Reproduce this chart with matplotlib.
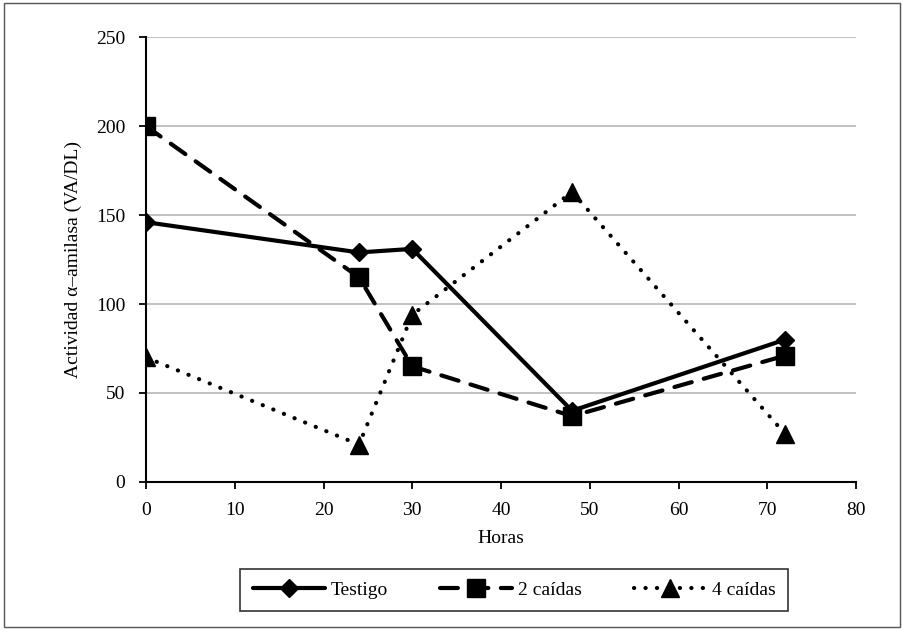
import matplotlib.pyplot as plt
from matplotlib.patches import Rectangle

horas = [0, 24, 30, 48, 72]
testigo = [146, 129, 131, 40, 80]
dos_caidas = [200, 115, 65, 37, 71]
cuatro_caidas = [70, 21, 94, 163, 27]

x_ticks = [0, 10, 20, 30, 40, 50, 60, 70, 80]
y_ticks = [0, 50, 100, 150, 200, 250]

fs = 14
plt.rcParams['font.family'] = ['Liberation Serif', 'DejaVu Serif']
plt.rcParams['font.size'] = fs

fig = plt.figure(figsize=(9.04, 6.3), dpi=100)
ax = fig.add_axes([0.1615, 0.235, 0.7855, 0.706])

lw = 3.0
ax.plot(horas, testigo, color='black', lw=lw, marker='D', markersize=9.5,
        solid_capstyle='round', label='Testigo', zorder=3)
ax.plot(horas, dos_caidas, color='black', lw=lw, marker='s', markersize=13,
        linestyle=(0, (4.3, 3.0)), dash_capstyle='round', label='2 caídas', zorder=3)
ax.plot(horas, cuatro_caidas, color='black', lw=lw, marker='^', markersize=13,
        linestyle=(0, (0.05, 2.7)), dash_capstyle='round', label='4 caídas', zorder=3)

ax.set_xlim(0, 80)
ax.set_ylim(0, 250)
ax.set_xticks(x_ticks)
ax.set_yticks(y_ticks)
ax.yaxis.grid(True, color='#bdbdbd', lw=1.3)
ax.set_axisbelow(True)
for side in ['top', 'right']:
    ax.spines[side].set_visible(False)
for side in ['left', 'bottom']:
    ax.spines[side].set_linewidth(1.5)
ax.tick_params(axis='both', direction='out', length=5, width=1.3, labelsize=fs)
ax.tick_params(axis='x', pad=9.5)
ax.tick_params(axis='y', pad=10)
ax.set_xlabel('Horas', fontsize=fs, labelpad=8)
ax.set_ylabel('Actividad α–amilasa (VA/DL)', fontsize=fs, labelpad=10)

leg = fig.legend(loc='center', ncol=3, mode='expand',
                 bbox_to_anchor=(240 / 904, 20 / 630, 548 / 904, 40 / 630),
                 bbox_transform=fig.transFigure,
                 fontsize=fs, frameon=True, fancybox=False, numpoints=1,
                 handlelength=3.7, borderpad=0.65, handletextpad=0.3,
                 borderaxespad=0)
leg.get_frame().set_edgecolor('black')
leg.get_frame().set_linewidth(1.2)

fig.patches.append(Rectangle((0.004, 0.004), 0.992, 0.992, transform=fig.transFigure,
                             fill=False, edgecolor='#555555', lw=1.0))

fig.savefig('out.png', dpi=100)
